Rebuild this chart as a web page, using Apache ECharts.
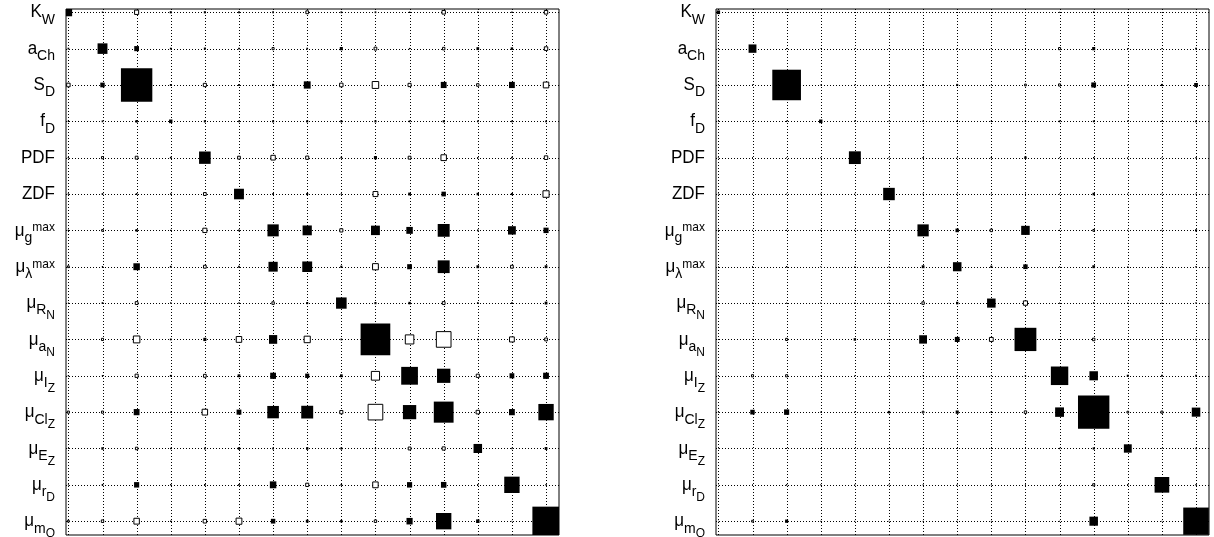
<!DOCTYPE html>
<html><head><meta charset="utf-8">
<script src="https://cdn.jsdelivr.net/npm/echarts@6/dist/echarts.min.js"></script>
<style>html,body{margin:0;padding:0;background:#fff;}#c{width:1214px;height:537px;}</style>
</head><body><div id="c"></div>
<script>
// Row / column labels (same order for rows and columns)
const rowLabels = [
  '{m|K}{s|W}', '{m|a}{s|Ch}', '{m|S}{s|D}', '{m|f}{s|D}', '{m|PDF}', '{m|ZDF}',
  '{m|μ}{s|g}{p|max}', '{m|μ}{s|λ}{p|max}', '{m|μ}{s|R}{ss|N}', '{m|μ}{s|a}{ss|N}',
  '{m|μ}{s|I}{ss|Z}', '{m|μ}{s|Cl}{ss|Z}', '{m|μ}{s|E}{ss|Z}', '{m|μ}{s|r}{ss|D}', '{m|μ}{s|m}{ss|Q}'
];
const positions = [1,2,3,4,5,6,7,8,9,10,11,12,13,14,15];

// Left matrix: signed square side (fraction of a cell); negative = hollow square
const leftValues = [
  [0.22,0.04,-0.12,0.06,0.06,0.05,0.05,-0.08,0.05,0.05,0.04,-0.10,0.04,0.04,-0.10],
  [0.05,0.29,0.14,0.05,0.06,0.05,-0.06,0.05,0.09,-0.08,0.04,-0.07,0.08,0.07,-0.10],
  [-0.10,0.13,0.92,0.05,-0.09,0.05,0.06,0.20,-0.10,-0.19,-0.09,0.17,-0.07,0.17,-0.16],
  [0.04,0.05,0.07,0.10,0.06,0.05,0.06,0.06,0.06,0.06,0.05,0.06,0.05,0.05,0.05],
  [0.04,-0.06,-0.08,0.05,0.34,-0.08,-0.13,-0.09,0.05,0.09,-0.08,-0.16,0.04,0.05,-0.10],
  [0.04,0.05,0.05,0.04,-0.08,0.29,0.05,0.06,0.04,-0.14,0.08,0.13,0.07,0.06,-0.18],
  [0.04,-0.05,0.07,0.04,-0.12,0.05,0.33,0.27,-0.09,0.26,0.19,0.35,0.05,0.23,0.15],
  [-0.05,0.04,0.19,0.05,-0.08,0.05,0.27,0.29,0.06,-0.17,0.14,0.35,0.08,-0.08,0.08],
  [0.03,0.05,-0.08,0.04,0.04,0.04,-0.07,0.06,0.31,0.06,0.07,-0.08,0.05,0.05,0.08],
  [0.03,-0.06,-0.19,0.05,0.09,-0.16,0.24,-0.18,0.05,0.87,-0.25,-0.43,0.04,-0.14,-0.08],
  [0.04,0.04,-0.09,0.05,-0.08,0.08,0.17,0.12,0.08,-0.24,0.49,0.39,-0.09,0.14,0.17],
  [-0.06,-0.06,0.17,0.04,-0.16,0.14,0.34,0.35,-0.09,-0.43,0.39,0.58,-0.10,0.17,0.45],
  [0.03,0.07,-0.07,0.04,0.05,0.07,0.05,0.07,0.06,0.04,-0.08,-0.09,0.25,0.04,0.08],
  [0.03,0.05,0.15,0.04,0.05,0.05,0.19,-0.09,0.05,-0.16,0.15,0.16,0.04,0.45,0.04],
  [-0.05,-0.07,-0.16,0.04,-0.10,-0.17,0.13,0.08,0.07,-0.07,0.18,0.45,0.10,0.03,0.80]
];

// Right matrix
const rightValues = [
  [0.10,0.02,0.02,0.02,0.02,0.02,0.02,0.02,0.02,0.02,0.03,0.04,0.02,0.02,0.03],
  [0.03,0.23,0.03,0.02,0.02,0.02,0.02,0.03,0.03,0.03,-0.06,0.09,0.03,0.03,0.05],
  [0.03,0.03,0.84,0.03,0.03,0.03,0.05,0.06,0.03,-0.05,-0.06,0.14,0.03,0.06,0.11],
  [0.03,0.03,0.04,0.10,0.04,0.03,0.04,0.04,0.04,0.04,0.05,0.05,0.04,0.04,0.05],
  [0.03,0.03,0.03,0.03,0.35,0.03,0.04,0.03,0.04,0.07,0.03,0.04,0.03,0.03,0.04],
  [0.03,0.03,0.03,0.03,0.03,0.34,0.03,0.03,0.03,0.03,0.03,0.07,0.03,0.03,0.03],
  [0.03,0.03,0.03,0.03,0.03,0.03,0.33,0.10,-0.07,0.25,0.03,-0.05,0.03,0.03,0.06],
  [0.02,0.03,0.04,0.03,0.03,0.03,0.08,0.25,0.06,0.13,0.03,0.08,0.03,0.03,0.04],
  [0.02,0.03,0.03,0.03,0.03,0.03,-0.07,0.07,0.25,-0.12,0.03,0.04,0.03,0.03,0.04],
  [0.03,0.03,-0.06,0.03,0.07,0.03,0.23,0.14,-0.11,0.64,0.03,-0.07,0.03,0.03,0.04],
  [0.03,-0.06,-0.06,0.03,0.03,0.03,0.03,0.03,0.03,0.04,0.51,0.25,0.06,0.05,0.05],
  [0.03,0.13,0.15,0.03,0.03,0.07,-0.05,0.09,0.05,-0.07,0.26,0.92,-0.05,-0.06,0.25],
  [0.02,0.03,0.03,0.03,0.03,0.03,0.03,0.03,0.03,0.03,0.04,0.06,0.23,0.03,0.04],
  [0.02,0.03,0.04,0.03,0.03,0.03,0.03,0.03,0.03,0.03,0.03,-0.06,0.04,0.43,0.04],
  [0.02,-0.05,0.09,0.03,0.03,0.03,0.03,0.03,0.03,0.03,0.03,0.25,0.03,0.03,0.75]
];

const X_MIN = 0.93, X_MAX = 15.38, Y_MIN = 0.91, Y_MAX = 15.38;
const FONT = "'Liberation Sans', Arial, Helvetica, sans-serif";
const rich = {
  m:  { fontSize: 17, lineHeight: 17, fontFamily: FONT, fill: '#000' },
  s:  { fontSize: 14, lineHeight: 14, padding: [13, 0, 0, 0], fontFamily: FONT, fill: '#000' },
  ss: { fontSize: 12, lineHeight: 12, padding: [23, 0, 0, 0], fontFamily: FONT, fill: '#000' },
  p:  { fontSize: 12, lineHeight: 12, padding: [0, 0, 5, 0], fontFamily: FONT, fill: '#000' }
};

function matrixData(vals) {
  const out = [];
  vals.forEach((row, r) => row.forEach((v, c) => out.push([positions[c], positions[r], v])));
  return out;
}

function renderGrid(params, api) {
  const i = api.value(0);
  const v0 = api.coord([i, Y_MIN]), v1 = api.coord([i, Y_MAX]);
  const h0 = api.coord([X_MIN, i]), h1 = api.coord([X_MAX, i]);
  const x = Math.round(v0[0]) + 0.5, y = Math.round(h0[1]) + 0.5;
  const st = { stroke: '#000', lineWidth: 1, lineDash: [1, 2] };
  return { type: 'group', children: [
    { type: 'line', shape: { x1: x, y1: v1[1], x2: x, y2: v0[1] }, style: st },
    { type: 'line', shape: { x1: h0[0], y1: y, x2: h1[0], y2: y }, style: st }
  ]};
}

function renderSquare(params, api) {
  const c = api.value(0), r = api.value(1), v = api.value(2);
  const p = api.coord([c, r]);
  const s = api.size([Math.abs(v), Math.abs(v)]);
  const cs = params.coordSys;
  let x0 = Math.max(p[0] - s[0] / 2, cs.x), x1 = Math.min(p[0] + s[0] / 2, cs.x + cs.width);
  let y0 = Math.max(p[1] - s[1] / 2, cs.y), y1 = Math.min(p[1] + s[1] / 2, cs.y + cs.height);
  if (x1 <= x0 || y1 <= y0) return null;
  return { type: 'rect', shape: { x: x0, y: y0, width: x1 - x0, height: y1 - y0 },
    style: v >= 0 ? { fill: '#000' } : { fill: '#fff', stroke: '#000', lineWidth: 1 } };
}

function renderLabel(params, api) {
  const k = api.value(1);
  const p = api.coord([X_MIN, k]);
  return { type: 'text', x: p[0] - 11, y: p[1], scaleY: 1.1,
    style: { text: rowLabels[k - 1], rich: rich, align: 'right', verticalAlign: 'middle',
             fontSize: 17, fontFamily: FONT, fill: '#000' } };
}

const gridsCfg = [
  { left: 66, right: 655, top: 9, bottom: 2 },
  { left: 716, right: 5, top: 9, bottom: 2 }
];
const matrices = [leftValues, rightValues];

const option = {
  backgroundColor: '#fff',
  animation: false,
  grid: gridsCfg.map(g => Object.assign({ show: true, borderColor: '#000', borderWidth: 1, backgroundColor: '#fff' }, g)),
  xAxis: gridsCfg.map((g, i) => ({ type: 'value', gridIndex: i, min: X_MIN, max: X_MAX, show: false })),
  yAxis: gridsCfg.map((g, i) => ({ type: 'value', gridIndex: i, min: Y_MIN, max: Y_MAX, inverse: true, show: false })),
  series: []
};
matrices.forEach((m, i) => {
  option.series.push({ type: 'custom', xAxisIndex: i, yAxisIndex: i, renderItem: renderGrid,
    data: positions.map(p => [p, p]), encode: { x: 0, y: 1 }, silent: true, z: 1 });
  option.series.push({ type: 'custom', xAxisIndex: i, yAxisIndex: i, renderItem: renderSquare,
    data: matrixData(m), encode: { x: 0, y: 1 }, silent: true, z: 2 });
  option.series.push({ type: 'custom', xAxisIndex: i, yAxisIndex: i, renderItem: renderLabel,
    data: positions.map(p => [X_MIN, p]), encode: { x: 0, y: 1 }, silent: true, z: 3, clip: false });
});

const chart = echarts.init(document.getElementById('c'), null, { renderer: 'canvas' });
chart.setOption(option);
</script>
</body></html>
